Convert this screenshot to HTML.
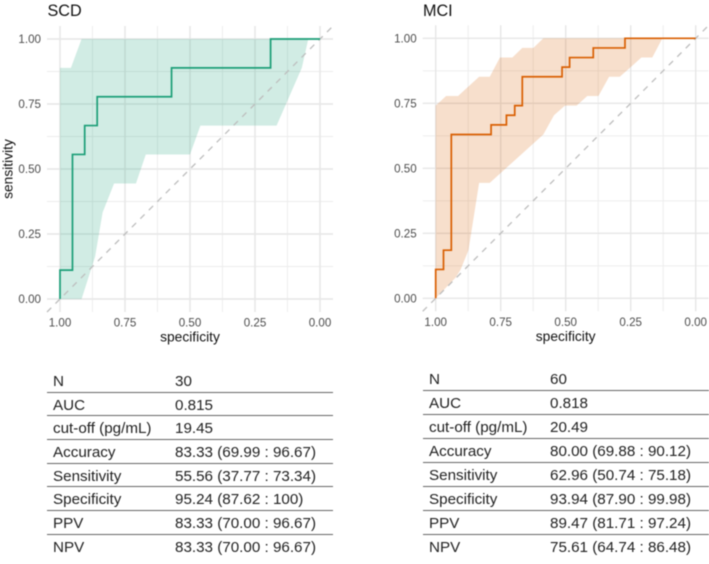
<!DOCTYPE html>
<html>
<head>
<meta charset="utf-8">
<style>
html,body{margin:0;padding:0;background:#fff;}
#page{position:relative;width:709px;height:564px;overflow:hidden;background:#fff;filter:blur(0.45px);font-family:"Liberation Sans",Arial,sans-serif;}
svg{position:absolute;left:0;top:0;}
table{position:absolute;border-collapse:collapse;table-layout:fixed;width:286px;font-size:15.2px;color:#222;}
td{padding:3px 0 0 6px;border-bottom:1px solid #666;white-space:nowrap;line-height:16px;}
tr:last-child td{border-bottom:none;}
#scd-table{left:47px;top:368.5px;}
#scd-table tr{height:23.7px;}
#mci-table{left:423px;top:366.5px;}
#mci-table tr{height:24px;}
.c1{width:122px;}
td.c2{padding-left:0;}
#mci-table .c1{width:121px;}
</style>
</head>
<body>
<div id="page">
<svg id="chart" width="709" height="564"></svg>

<table id="scd-table">
<tr><td class="c1">N</td><td class="c2">30</td></tr>
<tr><td class="c1">AUC</td><td class="c2">0.815</td></tr>
<tr><td class="c1">cut-off (pg/mL)</td><td class="c2">19.45</td></tr>
<tr><td class="c1">Accuracy</td><td class="c2">83.33 (69.99 : 96.67)</td></tr>
<tr><td class="c1">Sensitivity</td><td class="c2">55.56 (37.77 : 73.34)</td></tr>
<tr><td class="c1">Specificity</td><td class="c2">95.24 (87.62 : 100)</td></tr>
<tr><td class="c1">PPV</td><td class="c2">83.33 (70.00 : 96.67)</td></tr>
<tr><td class="c1">NPV</td><td class="c2">83.33 (70.00 : 96.67)</td></tr>
</table>

<table id="mci-table">
<tr><td class="c1">N</td><td class="c2">60</td></tr>
<tr><td class="c1">AUC</td><td class="c2">0.818</td></tr>
<tr><td class="c1">cut-off (pg/mL)</td><td class="c2">20.49</td></tr>
<tr><td class="c1">Accuracy</td><td class="c2">80.00 (69.88 : 90.12)</td></tr>
<tr><td class="c1">Sensitivity</td><td class="c2">62.96 (50.74 : 75.18)</td></tr>
<tr><td class="c1">Specificity</td><td class="c2">93.94 (87.90 : 99.98)</td></tr>
<tr><td class="c1">PPV</td><td class="c2">89.47 (81.71 : 97.24)</td></tr>
<tr><td class="c1">NPV</td><td class="c2">75.61 (64.74 : 86.48)</td></tr>
</table>
</div>

<script>
const majorTicks = [1, 0.75, 0.5, 0.25, 0];
const minorTicks = [0.875, 0.625, 0.375, 0.125];
const tickLabels = ["1.00", "0.75", "0.50", "0.25", "0.00"];

const scdSpecificity = [1, 1, 0.952, 0.905, 0.857, 0.571, 0.19, 0];
const scdSensitivity = [0, 0.111, 0.556, 0.667, 0.778, 0.889, 1, 1];
const scdBandSpecificity = [1, 1, 0.958, 0.917, 0.045, 0.07, 0.167, 0.46, 0.5, 0.67, 0.708, 0.792, 0.836, 0.865, 0.917];
const scdBandSensitivity = [0, 0.889, 0.889, 1, 1, 0.889, 0.667, 0.667, 0.556, 0.556, 0.444, 0.444, 0.333, 0.163, 0];

const mciSpecificity = [1, 1, 0.97, 0.94, 0.787, 0.728, 0.696, 0.667, 0.514, 0.485, 0.394, 0.272, 0];
const mciSensitivity = [0, 0.111, 0.185, 0.63, 0.667, 0.704, 0.741, 0.852, 0.889, 0.926, 0.963, 1, 1];
const mciBandSpecificity = [1, 1, 0.96, 0.914, 0.833, 0.792, 0.753, 0.705, 0.667, 0.624, 0.586, 0.128, 0.167, 0.209, 0.25, 0.292, 0.333, 0.374, 0.417, 0.458, 0.503, 0.545, 0.586, 0.792, 0.833, 0.874, 0.904, 0.923];
const mciBandSensitivity = [0, 0.741, 0.778, 0.778, 0.852, 0.852, 0.926, 0.926, 0.963, 0.963, 1, 1, 0.926, 0.926, 0.889, 0.852, 0.852, 0.778, 0.778, 0.741, 0.741, 0.704, 0.63, 0.444, 0.444, 0.185, 0.111, 0.08];

const svg = document.getElementById('chart');
const NS = 'http://www.w3.org/2000/svg';

function mk(tag, parent, name, attrs, text) {
  const el = document.createElementNS(NS, tag);
  
  
  for (const k in attrs) el.setAttribute(k, attrs[k]);
  if (text !== undefined) el.textContent = text;
  parent.appendChild(el);
  return el;
}

function drawPanel(key, title, left, top, color, spec, sens, bandSpec, bandSens, showY, titleX) {
  const size = 260, pad = 13;
  const x = v => left + (1 - v) * size;
  const y = v => top + (1 - v) * size;
  const x0 = left - pad, x1 = Math.min(left + size + pad, 709);
  const y0 = top - pad, y1 = top + size + pad;
  const g = mk('g', svg, key + '-panel', {});

  minorTicks.forEach(t => {
    mk('line', g, key + '-minor-gridline-x', {x1: x(t), x2: x(t), y1: y0, y2: y1, stroke: '#ececec', 'stroke-width': 0.9});
    mk('line', g, key + '-minor-gridline-y', {x1: x0, x2: x1, y1: y(t), y2: y(t), stroke: '#ececec', 'stroke-width': 0.9});
  });
  majorTicks.forEach(t => {
    mk('line', g, key + '-major-gridline-x', {x1: x(t), x2: x(t), y1: y0, y2: y1, stroke: '#e6e6e6', 'stroke-width': 1.4});
    mk('line', g, key + '-major-gridline-y', {x1: x0, x2: x1, y1: y(t), y2: y(t), stroke: '#e6e6e6', 'stroke-width': 1.4});
  });

  const band = bandSpec.map((s, i) => x(s) + ',' + y(bandSens[i])).join(' ');
  mk('polygon', g, key + '-confidence-band', {points: band, fill: color, 'fill-opacity': 0.2});

  mk('line', g, key + '-diagonal-reference', {x1: x(1.05), y1: y(-0.05), x2: Math.min(x(-0.05), 709), y2: y(-0.05 + (Math.min(x(-0.05), 709) - x(1.05)) / size), stroke: '#bdbdbd', 'stroke-width': 1.3, 'stroke-dasharray': '6 6'});

  let d = 'M' + x(spec[0]) + ' ' + y(sens[0]);
  for (let i = 1; i < spec.length; i++) {
    d += ' H' + x(spec[i]) + ' V' + y(sens[i]);
  }
  mk('path', g, key + '-roc-curve', {d: d, fill: 'none', stroke: color, 'stroke-width': 1.7});

  majorTicks.forEach((t, i) => {
    mk('text', g, key + '-x-tick-label', {x: x(t), y: top + 287.5, 'text-anchor': 'middle', 'font-size': 11.6, fill: '#4d4d4d'}, tickLabels[i]);
    mk('text', g, key + '-y-tick-label', {x: left - 19, y: y(t) + 4.2, 'text-anchor': 'end', 'font-size': 11.6, fill: '#4d4d4d'}, tickLabels[i]);
  });

  mk('text', g, key + '-x-axis-title', {x: left + 130, y: top + 302.5, 'text-anchor': 'middle', 'font-size': 13.8, fill: '#111'}, 'specificity');
  if (showY) {
    mk('text', g, key + '-y-axis-title', {x: 0, y: 0, transform: 'translate(12.5,' + (top + 130) + ') rotate(-90)', 'text-anchor': 'middle', 'font-size': 13.8, fill: '#111'}, 'sensitivity');
  }
  mk('text', g, key + '-title', {x: titleX, y: 16, 'font-size': 16.2, fill: '#111'}, title);
}

drawPanel('scd', 'SCD', 60, 39, '#1b9e77', scdSpecificity, scdSensitivity, scdBandSpecificity, scdBandSensitivity, true, 47.5);
drawPanel('mci', 'MCI', 435.7, 38.3, '#d95f02', mciSpecificity, mciSensitivity, mciBandSpecificity, mciBandSensitivity, false, 423);
</script>
</body>
</html>
